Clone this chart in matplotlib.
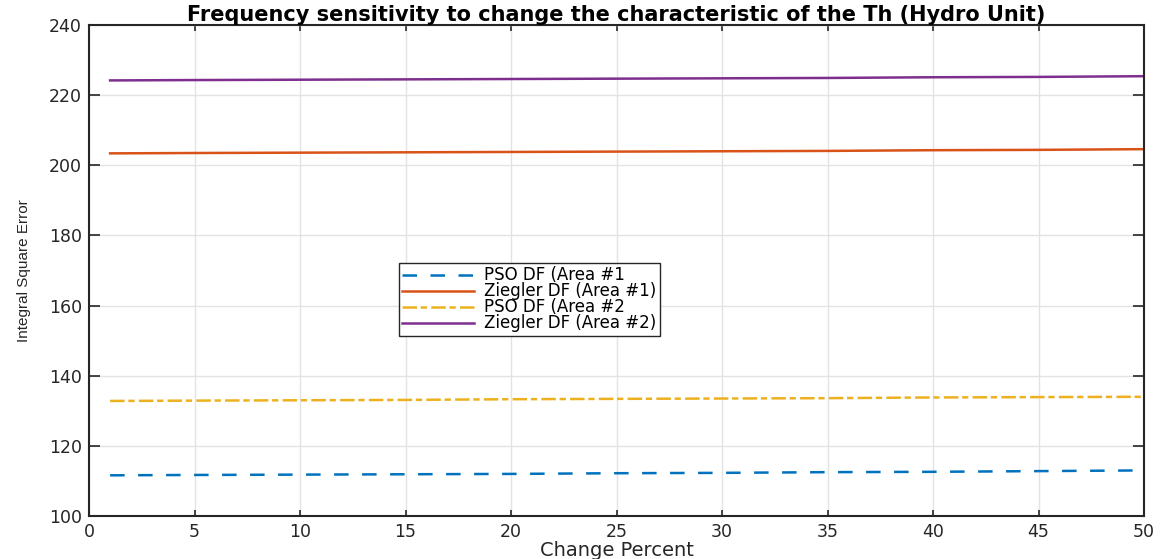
import matplotlib
matplotlib.use("Agg")
import matplotlib.pyplot as plt

# ---- data ----
change_percent = [1, 5, 10, 15, 20, 25, 30, 35, 40, 45, 50]
pso_area1 = [111.6, 111.7, 111.8, 111.9, 112.0, 112.2, 112.3, 112.5, 112.6, 112.8, 113.0]
ziegler_area1 = [203.4, 203.5, 203.6, 203.7, 203.8, 203.9, 204.0, 204.1, 204.3, 204.4, 204.6]
pso_area2 = [132.8, 132.9, 133.0, 133.1, 133.3, 133.4, 133.5, 133.6, 133.8, 133.9, 134.0]
ziegler_area2 = [224.2, 224.3, 224.4, 224.5, 224.6, 224.7, 224.8, 224.9, 225.1, 225.2, 225.4]

labels = ["PSO DF (Area #1", "Ziegler DF (Area #1)", "PSO DF (Area #2", "Ziegler DF (Area #2)"]
x_ticks = [0, 5, 10, 15, 20, 25, 30, 35, 40, 45, 50]
y_ticks = [100, 120, 140, 160, 180, 200, 220, 240]

title = "Frequency sensitivity to change the characteristic of the Th (Hydro Unit)"
xlabel = "Change Percent"
ylabel = "Integral Square Error"

plt.rcParams['font.family'] = ['DejaVu Sans']

fig = plt.figure(figsize=(11.66, 5.59), dpi=100)
ax = fig.add_axes([89/1166, 1 - 516/559, (1144 - 89)/1166, (516 - 25)/559])

lw = 1.8
ax.plot(change_percent, pso_area1, color="#0072BD", lw=lw, dashes=(5.8, 5.4), label=labels[0])
ax.plot(change_percent, ziegler_area1, color="#D95319", lw=lw, label=labels[1])
ax.plot(change_percent, pso_area2, color="#EDB120", lw=lw, dashes=(5.8, 1.5, 2.5, 1.7), label=labels[2])
ax.plot(change_percent, ziegler_area2, color="#7E2F8E", lw=lw, label=labels[3])

ax.set_xlim(0, 50)
ax.set_ylim(100, 240)
ax.set_xticks(x_ticks)
ax.set_yticks(y_ticks)
ax.grid(True, color="#e3e3e3", lw=1.0)
ax.set_axisbelow(True)

for s in ax.spines.values():
    s.set_color("#262626")
    s.set_linewidth(1.5)

ax.tick_params(axis='both', direction='in', top=True, right=True, colors="#262626",
               labelsize=12.5, width=1.2)
ax.tick_params(axis='y', length=8, pad=5)
ax.tick_params(axis='x', length=4.5, pad=5)

ax.set_title(title, fontsize=15, fontweight='bold', pad=3)
ax.set_xlabel(xlabel, fontsize=14, color="#262626", labelpad=0)
ax.set_ylabel(ylabel, fontsize=11, family=['Liberation Sans'],
              color="#262626", labelpad=13)

leg = ax.legend(loc='upper left', bbox_to_anchor=(399/1166, 1 - 263/559),
                bbox_transform=fig.transFigure, borderaxespad=0, fontsize=12,
                handlelength=4.3, handletextpad=0.6, labelspacing=-0.12,
                borderpad=0.2, fancybox=False, framealpha=1, edgecolor="#262626")
leg.get_frame().set_linewidth(1.0)

fig.savefig("out.png", dpi=100)
